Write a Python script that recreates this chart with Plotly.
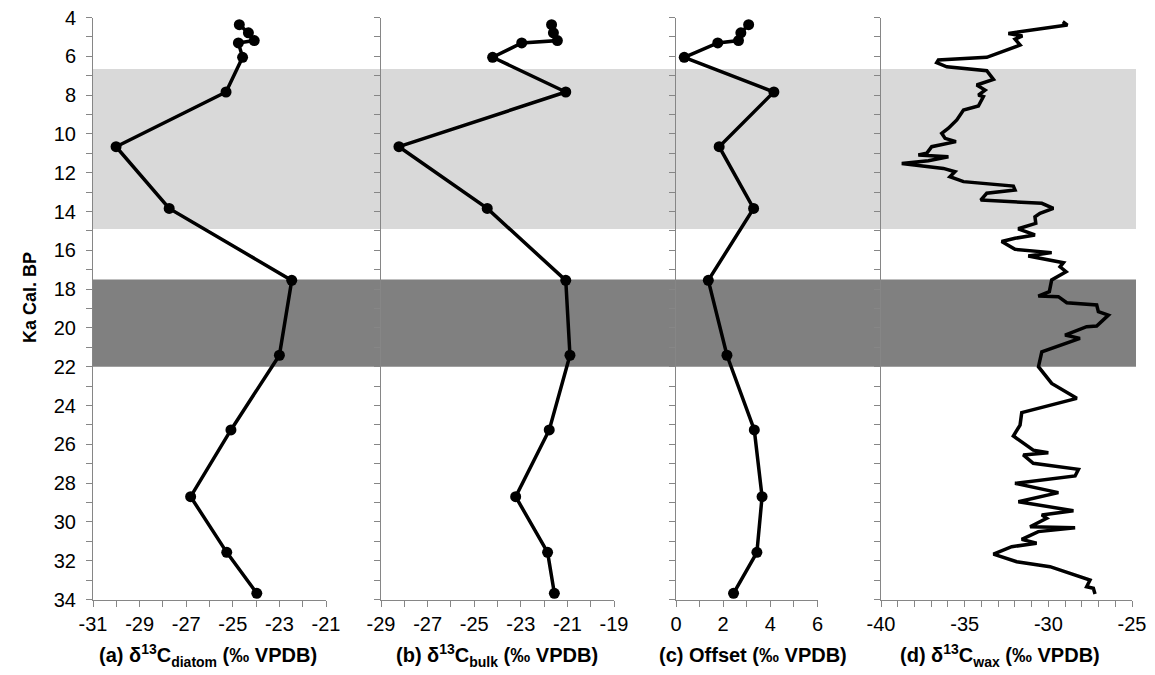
import plotly.graph_objects as go

# ---------------- data ----------------
age = [4.37, 4.79, 5.19, 5.31, 6.05, 7.84, 10.66, 13.84, 17.55, 21.41, 25.26, 28.70, 31.57, 33.68]
d13c_diatom = [-24.72, -24.33, -24.08, -24.76, -24.58, -25.29, -30.01, -27.73, -22.47, -23.00, -25.08, -26.81, -25.26, -23.97]
d13c_bulk = [-21.68, -21.60, -21.43, -22.96, -24.21, -21.07, -28.23, -24.44, -21.07, -20.89, -21.78, -23.22, -21.85, -21.56]
offset = [3.08, 2.75, 2.65, 1.77, 0.35, 4.15, 1.83, 3.29, 1.37, 2.16, 3.32, 3.65, 3.43, 2.44]

wax_age = [4.22, 4.39, 4.82, 4.95, 5.12, 5.42, 6.05, 6.19, 6.33, 6.54, 6.74, 6.96, 7.19, 7.48,
           7.74, 8.00, 8.08, 8.56, 8.77, 9.28, 9.71, 9.97, 10.23, 10.40, 10.66, 11.00, 11.09,
           11.18, 11.38, 11.52, 11.64, 11.78, 11.95, 12.21, 12.46, 12.69, 12.89, 13.06, 13.41,
           13.58, 13.84, 14.09, 14.27, 14.61, 14.89, 15.21, 15.38, 15.55, 15.95, 16.12, 16.29,
           16.64, 16.85, 17.10, 17.53, 18.13, 18.36, 18.39, 18.70, 18.82, 19.16, 19.34, 19.90,
           19.94, 20.37, 20.54, 21.23, 22.00, 22.86, 23.63, 24.37, 25.01, 25.57, 26.30, 26.43,
           26.55, 26.98, 27.29, 27.63, 28.01, 28.49, 28.96, 29.42, 29.64, 29.81, 30.25, 30.30,
           30.50, 30.90, 31.10, 31.28, 31.66, 32.05, 32.31, 33.00, 33.34, 33.42, 33.72]
d13c_wax = [-29.14, -28.86, -32.39, -31.55, -31.99, -31.69, -33.68, -36.57, -36.67, -36.07, -33.68,
            -33.48, -33.28, -34.28, -33.78, -34.18, -33.88, -34.18, -35.07, -35.47, -35.97, -36.37,
            -36.17, -35.52, -36.97, -37.27, -37.77, -35.97, -37.17, -38.76, -37.37, -36.27, -35.58,
            -35.88, -35.07, -32.09, -31.99, -33.68, -34.04, -30.39, -29.70, -30.50, -30.80, -30.75,
            -31.80, -30.80, -31.99, -32.79, -31.99, -29.80, -31.20, -29.10, -29.30, -28.94, -29.80,
            -29.94, -30.60, -29.40, -28.90, -27.11, -27.01, -26.41, -27.11, -27.71, -29.00, -28.11,
            -30.39, -30.59, -29.80, -28.30, -31.59, -31.69, -32.09, -30.90, -30.00, -31.50, -30.90,
            -28.20, -28.40, -31.99, -29.40, -31.79, -28.50, -30.39, -30.10, -31.09, -28.40, -30.60,
            -31.59, -30.70, -32.19, -33.28, -31.89, -29.90, -27.51, -27.71, -27.31, -27.21]

band_light = [6.65, 14.9]
band_dark = [17.5, 22.0]

x_ranges = [[-31, -21], [-29, -19], [0, 6], [-40, -25]]
x_tickvals = [[-31, -29, -27, -25, -23, -21],
              [-29, -27, -25, -23, -21, -19],
              [0, 2, 4, 6],
              [-40, -35, -30, -25]]
y_tickvals = [4, 6, 8, 10, 12, 14, 16, 18, 20, 22, 24, 26, 28, 30, 32, 34]
titles = ["<b>(a) δ<sup>13</sup>C<sub>diatom</sub> (‰ VPDB)</b>",
          "<b>(b) δ<sup>13</sup>C<sub>bulk</sub> (‰ VPDB)</b>",
          "<b>(c) Offset (‰ VPDB)</b>",
          "<b>(d) δ<sup>13</sup>C<sub>wax</sub> (‰ VPDB)</b>"]
y_title = "<b>Ka Cal. BP</b>"

# ---------------- layout geometry ----------------
W, H = 1155, 675
OFF = 8  # page body margin offset


def px(x):
    return (x - OFF) / W


def py(y):
    return (H - (y - OFF)) / H


px_domains = [(93, 326), (381, 614), (676, 817.5), (881, 1132)]
title_centers = [207.5, 497, 753, 1000]
y_dom = [py(599.5), py(17.5)]
band_x = [px(93), px(1136)]

FONT = "Liberation Sans, Arial, sans-serif"
AX_COL = "#868686"

fig = go.Figure()

series = [(d13c_diatom, age, True), (d13c_bulk, age, True), (offset, age, True), (d13c_wax, wax_age, False)]
for i, (xv, yv, mk) in enumerate(series):
    sfx = "" if i == 0 else str(i + 1)
    fig.add_trace(go.Scatter(
        x=xv, y=yv, mode="lines+markers" if mk else "lines",
        line=dict(color="black", width=3.5),
        marker=dict(color="black", size=11),
        xaxis="x" + sfx, yaxis="y" + sfx, cliponaxis=False, showlegend=False))

layout = dict(width=W, height=H, margin=dict(l=0, r=0, t=0, b=0, autoexpand=False),
              plot_bgcolor="rgba(0,0,0,0)", paper_bgcolor="white",
              font=dict(family=FONT, size=20, color="black"), showlegend=False)

for i in range(4):
    sfx = "" if i == 0 else str(i + 1)
    a, b = px_domains[i]
    layout["xaxis" + sfx] = dict(
        domain=[px(a), px(b)], range=x_ranges[i], anchor="y" + sfx,
        tickmode="array", tickvals=x_tickvals[i], ticktext=[str(v) for v in x_tickvals[i]],
        ticks="outside", ticklen=6, tickcolor=AX_COL, ticklabeloverflow="allow",
        showline=True, linecolor=AX_COL, linewidth=1, showgrid=False, zeroline=False,
        tickfont=dict(size=20, color="black"),
        minor=dict(tickmode="linear", tick0=x_ranges[i][0], dtick=1, ticks="outside",
                   ticklen=6, tickcolor=AX_COL, showgrid=False))
    layout["yaxis" + sfx] = dict(
        domain=y_dom, range=[34, 4], anchor="x" + sfx,
        tickmode="array", tickvals=y_tickvals, ticktext=[str(v) for v in y_tickvals],
        ticks="outside", ticklen=6, tickcolor=AX_COL, ticklabelstandoff=6,
        ticklabeloverflow="allow",
        showline=True, linecolor=AX_COL, linewidth=1, showgrid=False, zeroline=False,
        showticklabels=(i == 0), tickfont=dict(size=20, color="black"),
        minor=dict(tickmode="linear", tick0=4, dtick=1, ticks="outside", ticklen=6,
                   tickcolor=AX_COL, showgrid=False))

fig.update_layout(**layout)

for (y0, y1), col in [(band_light, "#D9D9D9"), (band_dark, "#808080")]:
    fig.add_shape(type="rect", xref="paper", yref="y", x0=band_x[0], x1=band_x[1], y0=y0, y1=y1,
                  fillcolor=col, line=dict(width=0), layer="below")

for i in range(4):
    fig.add_annotation(text=titles[i], xref="paper", yref="paper", x=px(title_centers[i]),
                       y=py(655), xanchor="center", yanchor="middle", showarrow=False,
                       font=dict(size=20, family=FONT, color="black"))

fig.add_annotation(text=y_title, xref="paper", yref="paper", x=px(30), y=py(298),
                   textangle=-90, xanchor="center", yanchor="middle", showarrow=False,
                   font=dict(size=18, family=FONT, color="black"))

fig.write_html("out.html")
